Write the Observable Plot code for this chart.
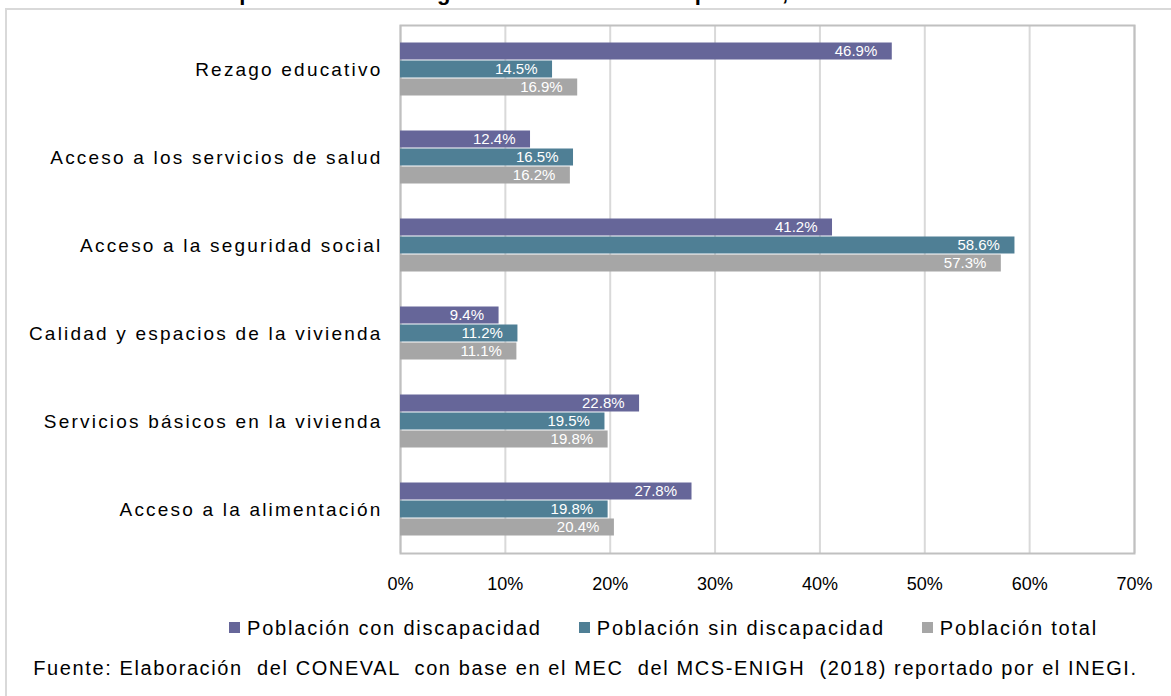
<!DOCTYPE html>
<html><head><meta charset="utf-8">
<script src="https://cdn.jsdelivr.net/npm/d3@7"></script>
<script src="https://cdn.jsdelivr.net/npm/@observablehq/plot@0.6"></script>
<style>
body{margin:0;background:#fff;font-family:"Liberation Sans",Arial,sans-serif;overflow:hidden;width:1171px;height:696px;position:relative}
#frame{position:absolute;left:5px;top:8px;width:1200px;height:720px;border-left:2px solid #d9d9d9;border-top:2px solid #d9d9d9}
#title{position:absolute;top:-20px;left:0;width:1171px;text-align:center;font-weight:bold;font-size:22px;letter-spacing:0.6px;color:#000;white-space:nowrap}
#chart{position:absolute;left:0;top:0}
#legend{position:absolute;top:617px;left:0;width:1171px;display:flex;justify-content:flex-start;gap:37px;font-size:20px;letter-spacing:1.8px;color:#000;padding-left:229px;box-sizing:border-box}
#legend span.sw{display:inline-block;width:11px;height:11px;margin-right:7px;vertical-align:middle;position:relative;top:-2px}
#source{position:absolute;top:657px;left:0;width:1171px;text-align:center;font-size:20px;letter-spacing:1.6px;color:#000;white-space:pre}
g[aria-label="y-axis tick label"] text{letter-spacing:2.2px}
</style></head>
<body>
<div id="title">población total según condición de discapacidad, México 2018</div>
<div id="frame"></div>
<div id="chart"></div>
<div id="legend"></div>
<div id="source">Fuente: Elaboración  del CONEVAL  con base en el MEC  del MCS-ENIGH  (2018) reportado por el INEGI.</div>
<script>
const categories = ["Rezago educativo","Acceso a los servicios de salud","Acceso a la seguridad social","Calidad y espacios de la vivienda","Servicios básicos en la vivienda","Acceso a la alimentación"];
const seriesNames = ["Población con discapacidad","Población sin discapacidad","Población total"];
const conDiscapacidad = [46.9,12.4,41.2,9.4,22.8,27.8];
const sinDiscapacidad = [14.5,16.5,58.6,11.2,19.5,19.8];
const total = [16.9,16.2,57.3,11.1,19.8,20.4];
const xTicks = [0,10,20,30,40,50,60,70];
const colors = ["#666699","#4f7f95","#a6a6a6"];

const seriesValues = [conDiscapacidad, sinDiscapacidad, total];
const offsets = [-18, 0, 18];
const marks = [
  Plot.ruleX(xTicks, {stroke:"#d9d9d9", strokeWidth:2}),
  Plot.frame({stroke:"#c0c0c0", strokeWidth:2}),
];
seriesValues.forEach((vals, i) => {
  const data = categories.map((c, j) => ({cat:c, v:vals[j]}));
  marks.push(Plot.barX(data, {x:"v", y:"cat", fill:colors[i], insetTop:35.5+offsets[i], insetBottom:35.5-offsets[i]}));
  marks.push(Plot.text(data, {x:"v", y:"cat", text:d => d.v.toFixed(1)+"%", dy:offsets[i], dx:-15, textAnchor:"end", fill:"#fff", fontSize:15}));
});
marks.push(Plot.axisY({tickSize:0, tickPadding:18, fontSize:19, color:"#000", label:null}));
marks.push(Plot.axisX({ticks:xTicks, tickSize:0, tickPadding:24, fontSize:18, color:"#000", label:null, tickFormat:d => d+"%"}));

const chart = Plot.plot({
  width:1171, height:640,
  marginLeft:400, marginRight:37, marginTop:25, marginBottom:87,
  style:{fontFamily:'"Liberation Sans",Arial,sans-serif', background:"transparent", overflow:"visible"},
  x:{domain:[0,70]},
  y:{domain:categories, padding:0},
  marks
});
document.getElementById("chart").append(chart);

const legend = document.getElementById("legend");
seriesNames.forEach((n,i)=>{
  const d = document.createElement("div");
  d.innerHTML = `<span class="sw" style="background:${colors[i]}"></span>${n}`;
  legend.append(d);
});
</script>
</body></html>
